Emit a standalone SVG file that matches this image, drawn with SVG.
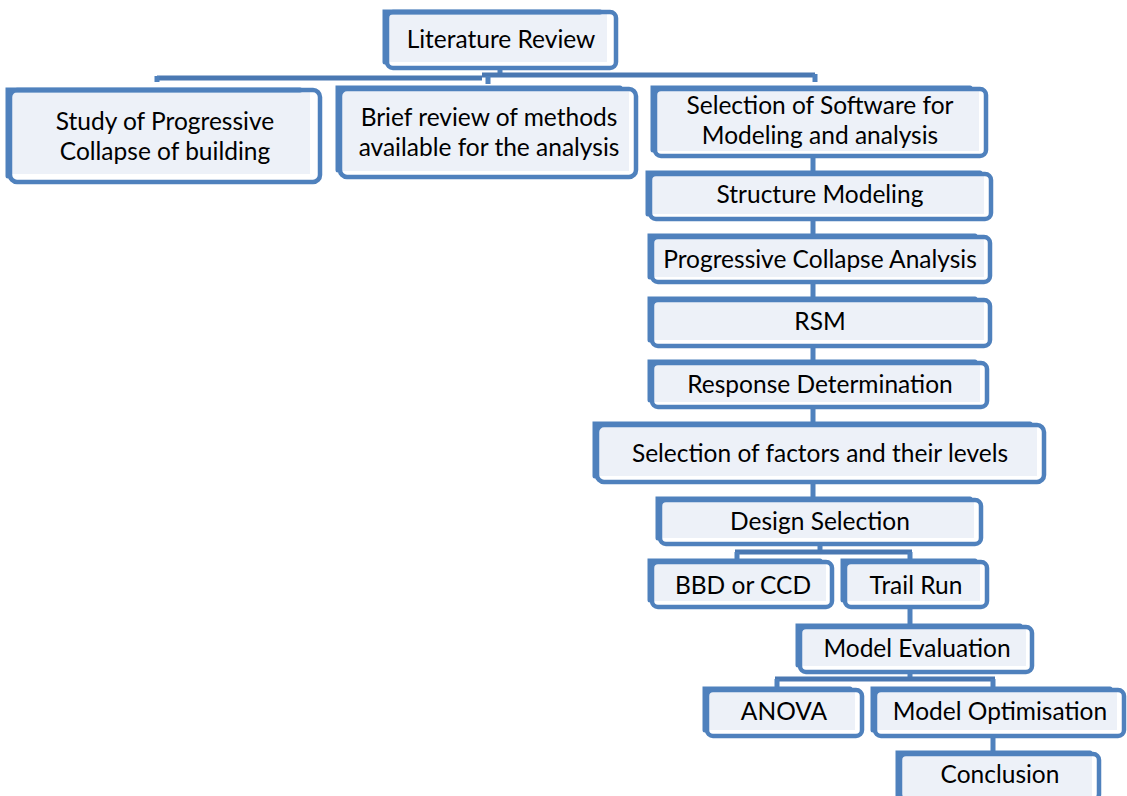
<svg xmlns="http://www.w3.org/2000/svg" width="1127" height="796" viewBox="0 0 1127 796">
<style>
.fill{fill:#EDF1F8}
.bd{fill:none;stroke:#4F81BD;stroke-width:4.5}
.tl{fill:none;stroke:#4F81BD;stroke-width:5;stroke-linecap:round}
.con{fill:none;stroke:#4A78B2;stroke-width:5}
.vc{fill:none;stroke:#4F81BD;stroke-width:5}
text{font-family:Lato,"Liberation Sans",sans-serif;font-size:24.5px;fill:#000;text-anchor:middle}
</style>
<rect width="1127" height="796" fill="#fff"/>
<g id="connectors">
<path class="vc" d="M500 70V76"/>
<path class="con" d="M157 78H482M482 75H815"/>
<path class="vc" d="M157 76V82M815 74V82M488 76V84"/>
<path class="vc" d="M813 157V172M813 220V235M813 283V298M813 347V362M813 408V423M813 483V498"/>
<path class="vc" d="M820 545V552"/>
<path class="con" d="M735 552H912"/>
<path class="vc" d="M737 552V560M910 552V560"/>
<path class="vc" d="M910 608V625"/>
<path class="vc" d="M910 673V678"/>
<path class="con" d="M775 679H995"/>
<path class="vc" d="M777 679V688M993 679V688"/>
<path class="vc" d="M993 737V752"/>
</g>
<g id="n-lit">
<rect class="fill" x="389" y="14" width="218" height="48"/>
<rect class="bd" x="387" y="12" width="229" height="56" rx="6"/>
<path class="tl" d="M385 62V12H600"/>
<text x="501" y="48">Literature Review</text>
</g>
<g id="n-study">
<rect class="fill" x="12" y="92" width="298" height="82"/>
<rect class="bd" x="10" y="90" width="310" height="92" rx="7"/>
<path class="tl" d="M8 176V90H300"/>
<text x="165" y="130">Study of Progressive</text>
<text x="165" y="160">Collapse of building</text>
</g>
<g id="n-brief">
<rect class="fill" x="342" y="91" width="287" height="80"/>
<rect class="bd" x="340" y="89" width="296" height="88" rx="7"/>
<path class="tl" d="M338 170V88H620"/>
<text x="489" y="126">Brief review of methods</text>
<text x="489" y="156">available for the analysis</text>
</g>
<g id="n-soft">
<rect class="fill" x="657" y="91" width="322" height="60"/>
<rect class="bd" x="655" y="89" width="331" height="67" rx="6"/>
<path class="tl" d="M653 150V88H970"/>
<text x="820" y="114">Selection of Software for</text>
<text x="820" y="144">Modeling and analysis</text>
</g>
<g id="n-struct">
<rect class="fill" x="652" y="176" width="332" height="38"/>
<rect class="bd" x="650" y="174" width="341" height="45" rx="6"/>
<path class="tl" d="M648 214V173H980"/>
<text x="820" y="203">Structure Modeling</text>
</g>
<g id="n-pca">
<rect class="fill" x="654" y="239" width="330" height="38"/>
<rect class="bd" x="652" y="237" width="338" height="45" rx="6"/>
<path class="tl" d="M650 277V236H975"/>
<text x="820" y="268">Progressive Collapse Analysis</text>
</g>
<g id="n-rsm">
<rect class="fill" x="654" y="302" width="330" height="38"/>
<rect class="bd" x="652" y="300" width="338" height="46" rx="6"/>
<path class="tl" d="M650 340V299H975"/>
<text x="820" y="330">RSM</text>
</g>
<g id="n-resp">
<rect class="fill" x="654" y="365" width="326" height="37"/>
<rect class="bd" x="652" y="363" width="335" height="44" rx="6"/>
<path class="tl" d="M650 400V362H975"/>
<text x="820" y="393">Response Determination</text>
</g>
<g id="n-factors">
<rect class="fill" x="599" y="427" width="438" height="49"/>
<rect class="bd" x="597" y="425" width="447" height="57" rx="7"/>
<path class="tl" d="M595 476V424H1030"/>
<text x="820" y="462">Selection of factors and their levels</text>
</g>
<g id="n-design">
<rect class="fill" x="662" y="502" width="312" height="36"/>
<rect class="bd" x="660" y="500" width="321" height="44" rx="6"/>
<path class="tl" d="M658 538V499H970"/>
<text x="820" y="530">Design Selection</text>
</g>
<g id="n-bbd">
<rect class="fill" x="654" y="564" width="172" height="37"/>
<rect class="bd" x="652" y="562" width="180" height="45" rx="6"/>
<path class="tl" d="M650 600V561H820"/>
<text x="743" y="594">BBD or CCD</text>
</g>
<g id="n-trail">
<rect class="fill" x="847" y="564" width="133" height="37"/>
<rect class="bd" x="845" y="562" width="142" height="45" rx="6"/>
<path class="tl" d="M843 600V561H975"/>
<text x="916" y="594">Trail Run</text>
</g>
<g id="n-eval">
<rect class="fill" x="802" y="629" width="224" height="37"/>
<rect class="bd" x="800" y="627" width="232" height="45" rx="6"/>
<path class="tl" d="M798 665V626H1020"/>
<text x="917" y="657">Model Evaluation</text>
</g>
<g id="n-anova">
<rect class="fill" x="709" y="692" width="146" height="38"/>
<rect class="bd" x="707" y="690" width="155" height="46" rx="6"/>
<path class="tl" d="M705 730V689H850"/>
<text x="784" y="720">ANOVA</text>
</g>
<g id="n-opt">
<rect class="fill" x="877" y="692" width="240" height="38"/>
<rect class="bd" x="875" y="690" width="249" height="46" rx="6"/>
<path class="tl" d="M873 730V689H1110"/>
<text x="1000" y="720">Model Optimisation</text>
</g>
<g id="n-concl">
<rect class="fill" x="902" y="756" width="190" height="40"/>
<rect class="bd" x="900" y="754" width="199" height="46" rx="6"/>
<path class="tl" d="M898 796V753H1090"/>
<text x="1000" y="783">Conclusion</text>
</g>
</svg>
